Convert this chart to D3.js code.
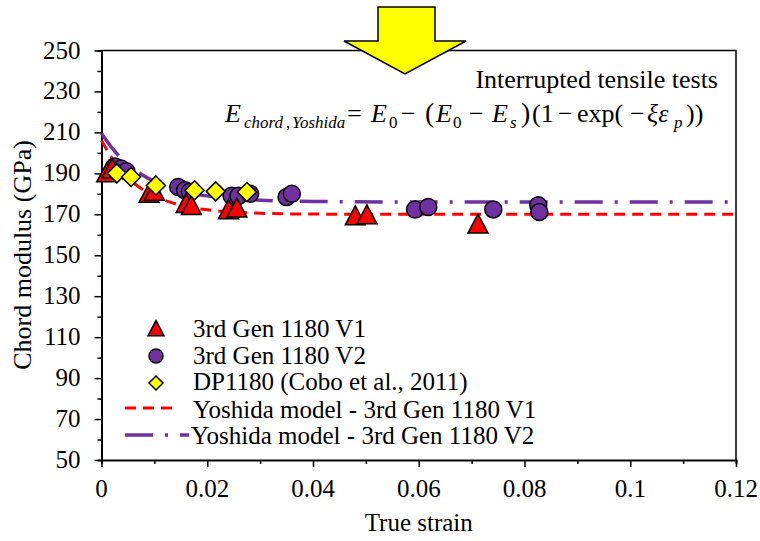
<!DOCTYPE html>
<html>
<head>
<meta charset="utf-8">
<script src="https://cdn.jsdelivr.net/npm/d3@7"></script>
<style>
  body { margin: 0; background: #fff; }
  text { font-family: "Liberation Serif", "Times New Roman", serif; fill: #000; }
</style>
</head>
<body>
<div id="chart"></div>
<script>
// Measured points (true strain, chord modulus GPa)
var v1Strain = [0.001, 0.002, 0.009, 0.010, 0.016, 0.017, 0.024, 0.0256, 0.048, 0.0502, 0.0712];
var v1Modulus = [190, 192, 180, 181, 175, 174, 172, 172.8, 169, 169.5, 165];

var v2Strain = [0.0025, 0.0037, 0.0047, 0.0145, 0.0158, 0.0167, 0.0246, 0.0259, 0.0281, 0.035, 0.036, 0.0593, 0.0618, 0.0741, 0.0826, 0.0828];
var v2Modulus = [193.4, 192.4, 191, 183.3, 181.7, 181, 179, 179, 180, 178.4, 180, 172.3, 173.6, 172.4, 174.4, 171.1];

var dpStrain = [0.0029, 0.0056, 0.0103, 0.0176, 0.0216, 0.0275];
var dpModulus = [190, 188.2, 184.1, 181.7, 181.2, 180.9];

// Yoshida model curves
var modelStrain = [0, 0.0025, 0.005, 0.0075, 0.01, 0.0125, 0.015, 0.02, 0.025, 0.03, 0.04, 0.06, 0.12];
var modelV1 = [206, 195.4, 187.9, 182.6, 178.9, 176.3, 174.4, 172.2, 171.1, 170.5, 170.1, 170, 170];
var modelV2 = [209.5, 200.8, 194.4, 189.6, 186.1, 183.5, 181.5, 179, 177.7, 176.9, 176.3, 176, 176];

var xTicks = [0, 0.02, 0.04, 0.06, 0.08, 0.1, 0.12];
var yTicks = [50, 70, 90, 110, 130, 150, 170, 190, 210, 230, 250];

var legendLabels = ["3rd Gen 1180 V1", "3rd Gen 1180 V2", "DP1180 (Cobo et al., 2011)",
  "Yoshida model - 3rd Gen 1180 V1", "Yoshida model - 3rd Gen 1180 V2"];

var red = "#ff0000", purple = "#7030a0", yellow = "#ffff00";

var W = 760, H = 541;
var margin = {top: 50.5, left: 101.5, right: 24, bottom: 81};
var width = W - margin.left - margin.right;
var height = H - margin.top - margin.bottom;

var svg = d3.select("#chart").append("svg")
    .attr("width", W).attr("height", H);

var g = svg.append("g")
    .attr("transform", "translate(" + margin.left + "," + margin.top + ")");

var x = d3.scaleLinear().domain([0, 0.12]).range([0, width]);
var y = d3.scaleLinear().domain([50, 250]).range([height, 0]);

// frame (top + right)
g.append("path")
    .attr("d", "M0,0H" + width + "V" + height)
    .attr("fill", "none").attr("stroke", "#000").attr("stroke-width", 1.5);

// axes
var xAxis = g.append("g")
    .attr("transform", "translate(0," + height + ")")
    .call(d3.axisBottom(x).tickValues(d3.range(0, 0.1201, 0.01)).tickSize(4).tickFormat(""));
xAxis.selectAll(".tick line").filter(function(d, i) { return i % 2 == 0; }).attr("y2", 7);

g.append("g").attr("class", "xlabels")
  .selectAll("text").data(xTicks).enter().append("text")
    .attr("x", function(d) { return x(d); })
    .attr("y", height + 37)
    .attr("text-anchor", "middle")
    .style("font-size", "25px")
    .text(function(d) { return d3.format("~g")(d); });

var yAxis = g.append("g")
    .call(d3.axisLeft(y).tickValues(d3.range(50, 251, 10)).tickSize(4).tickFormat(""));
yAxis.selectAll(".tick line").filter(function(d, i) { return i % 2 == 0; }).attr("x2", -7);

g.append("g").attr("class", "ylabels")
  .selectAll("text").data(yTicks).enter().append("text")
    .attr("x", -21)
    .attr("y", function(d) { return y(d) + 8; })
    .attr("text-anchor", "end")
    .style("font-size", "25px")
    .text(function(d) { return d; });

g.selectAll(".domain").attr("stroke-width", 2);
g.selectAll(".tick line").attr("stroke-width", 1.5);

svg.append("text")
    .attr("x", margin.left + width / 2)
    .attr("y", 531)
    .attr("text-anchor", "middle")
    .style("font-size", "25px")
    .text("True strain");

svg.append("text")
    .attr("transform", "translate(31,255) rotate(-90)")
    .attr("text-anchor", "middle")
    .style("font-size", "26px")
    .text("Chord modulus (GPa)");

// model lines
var line = function(vals) {
  return d3.line()
    .x(function(d, i) { return x(modelStrain[i]); })
    .y(function(d) { return y(d); })
    .curve(d3.curveMonotoneX)(vals);
};

g.append("path").attr("d", line(modelV1))
    .attr("fill", "none").attr("stroke", red)
    .attr("stroke-width", 3).attr("stroke-dasharray", "11,7");
g.append("path").attr("d", line(modelV2))
    .attr("fill", "none").attr("stroke", purple)
    .attr("stroke-width", 3.5).attr("stroke-dasharray", "28,12,3,12");

// marker shapes
function triPath(s) { return "M0," + (-s * 1.05) + "L" + s + "," + (s * 0.85) + "L" + (-s) + "," + (s * 0.85) + "Z"; }
function diaPath(s) { return "M0," + (-s) + "L" + s + ",0L0," + s + "L" + (-s) + ",0Z"; }

g.append("g").selectAll("circle")
    .data(v2Strain).enter().append("circle")
    .attr("cx", function(d) { return x(d); })
    .attr("cy", function(d, i) { return y(v2Modulus[i]); })
    .attr("r", 8.5)
    .style("fill", purple).style("stroke", "#000").style("stroke-width", 1.5);

g.append("g").selectAll("path")
    .data(v1Strain).enter().append("path")
    .attr("transform", function(d, i) { return "translate(" + x(d) + "," + y(v1Modulus[i]) + ")"; })
    .attr("d", triPath(10))
    .style("fill", red).style("stroke", "#000").style("stroke-width", 1.5);

g.append("g").selectAll("path")
    .data(dpStrain).enter().append("path")
    .attr("transform", function(d, i) { return "translate(" + x(d) + "," + y(dpModulus[i]) + ")"; })
    .attr("d", diaPath(9.5))
    .style("fill", yellow).style("stroke", "#000").style("stroke-width", 1.5);

// legend
var legend = svg.append("g");
var rowY = [337, 364, 390, 418, 444];
legend.selectAll("text").data(legendLabels).enter().append("text")
    .attr("x", function(d, i) { return i == 4 ? 191 : 193; })
    .attr("y", function(d, i) { return rowY[i]; })
    .style("font-size", "25px")
    .text(function(d) { return d; });

legend.append("path").attr("transform", "translate(156,329)").attr("d", triPath(8))
    .style("fill", red).style("stroke", "#000").style("stroke-width", 1.5);
legend.append("circle").attr("cx", 156).attr("cy", 356).attr("r", 7)
    .style("fill", purple).style("stroke", "#000").style("stroke-width", 1.5);
legend.append("path").attr("transform", "translate(156,383)").attr("d", diaPath(7))
    .style("fill", yellow).style("stroke", "#000").style("stroke-width", 1.5);
legend.append("line").attr("x1", 125).attr("x2", 178).attr("y1", 408).attr("y2", 408)
    .attr("stroke", red).attr("stroke-width", 3).attr("stroke-dasharray", "11,7");
legend.append("line").attr("x1", 125).attr("x2", 189).attr("y1", 435).attr("y2", 435)
    .attr("stroke", purple).attr("stroke-width", 3.5).attr("stroke-dasharray", "28,12,3,12");

// annotation
svg.append("text")
    .attr("x", 718).attr("y", 88)
    .attr("text-anchor", "end")
    .style("font-size", "26px")
    .text("Interrupted tensile tests");

// formula, each piece placed at its own x
var eqParts = [
  {t: "E", x: 225, it: 1},
  {t: "chord", x: 244, it: 1, sub: 1},
  {t: ",", x: 286, sub: 1},
  {t: "Yoshida", x: 292, it: 1, sub: 1},
  {t: "=", x: 347},
  {t: "E", x: 371, it: 1},
  {t: "0", x: 389, sub: 1},
  {t: "\u2212", x: 401},
  {t: "(", x: 425, big: 1},
  {t: "E", x: 436, it: 1},
  {t: "0", x: 453, sub: 1},
  {t: "\u2212", x: 469},
  {t: "E", x: 492, it: 1},
  {t: "s", x: 510, it: 1, sub: 1},
  {t: ")", x: 521, big: 1},
  {t: "(1", x: 532},
  {t: "\u2212", x: 558},
  {t: "exp(", x: 577},
  {t: "\u2212", x: 630},
  {t: "\u03be\u03b5", x: 647, it: 1},
  {t: "p", x: 674, it: 1, sub: 1},
  {t: "))", x: 686}
];
svg.append("g").selectAll("text").data(eqParts).enter().append("text")
    .attr("x", function(d) { return d.x; })
    .attr("y", function(d) { return d.sub ? 128 : 122; })
    .style("font-size", function(d) { return d.sub ? "17px" : (d.big ? "28px" : "26px"); })
    .style("font-style", function(d) { return d.it ? "italic" : "normal"; })
    .text(function(d) { return d.t; });

// yellow arrow
svg.append("path")
    .attr("d", "M378,7H435V41H466L405,74L344,41H378Z")
    .attr("fill", yellow).attr("stroke", "#000").attr("stroke-width", 1.5);
</script>
</body>
</html>
